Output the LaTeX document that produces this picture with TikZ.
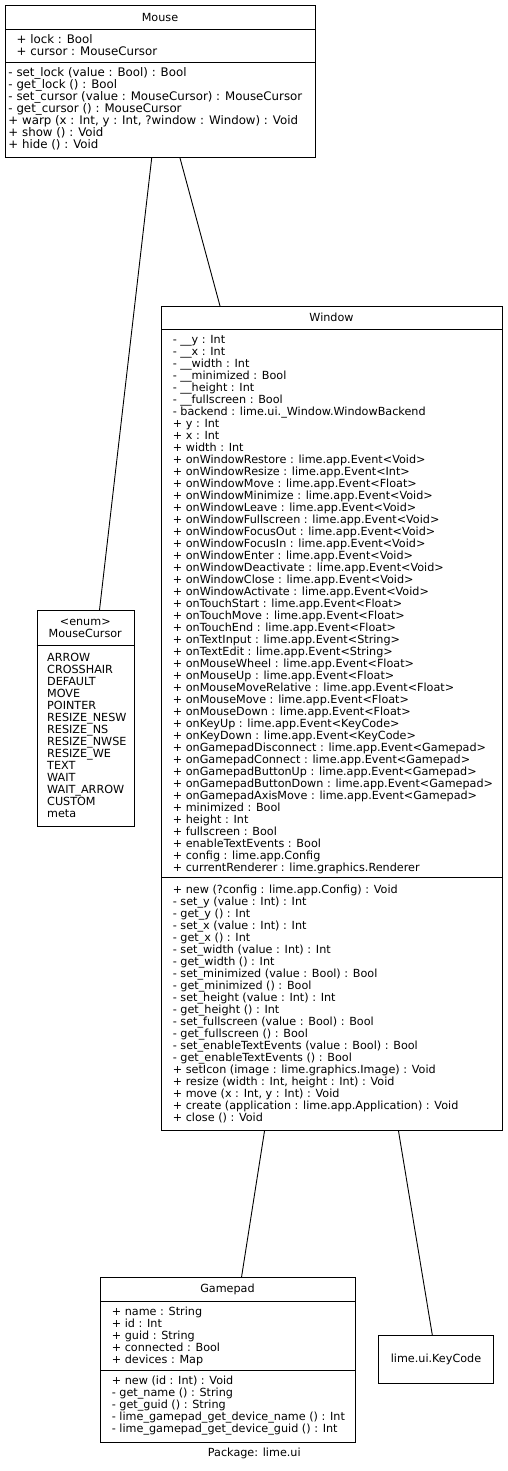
\documentclass[tikz,border=0pt]{standalone}
\usepackage{fontspec}
\setmainfont{DejaVu Sans}
\usetikzlibrary{calc}
\tikzset{
  umlbox/.style={draw=black, line width=1pt, rectangle, inner sep=0pt, anchor=north west},
  sep/.style={draw=black, line width=0.9pt},
  txt/.style={font=\fontsize{11.2}{12}\selectfont, inner sep=0pt, align=left, anchor=north west},
  bigtxt/.style={txt, font=\fontsize{11.8}{12}\selectfont},
  ttl/.style={font=\fontsize{11.2}{12}\selectfont, inner sep=0pt, anchor=base},
  conn/.style={draw=black, line width=0.9pt}
}
\begin{document}
\begin{tikzpicture}[x=1pt,y=-1pt]
\useasboundingbox (0,0) rectangle (508,1471);

% ---------- Mouse ----------
\node[umlbox, minimum width=310pt, minimum height=152pt] (mouse) at (5,5) {};
\draw[sep] ($(mouse.north west)+(0,24)$) -- ($(mouse.north east)+(0,24)$);
\draw[sep] ($(mouse.north west)+(0,57)$) -- ($(mouse.north east)+(0,57)$);
\node[ttl] (mousettl) at (160,21.5) {Mouse};
\node[bigtxt] (mouseattr) at (16.5,34) {\rule{0pt}{9pt}+ lock : Bool\\+ cursor : MouseCursor};
\node[bigtxt] (mousemeth) at (8.3,67) {\rule{0pt}{9pt}- set\_lock (value : Bool) : Bool\\
- get\_lock () : Bool\\
- set\_cursor (value : MouseCursor) : MouseCursor\\
- get\_cursor () : MouseCursor\\
+ warp (x : Int, y : Int, ?window : Window) : Void\\
+ show () : Void\\
+ hide () : Void};

% ---------- MouseCursor ----------
\node[umlbox, minimum width=97.5pt, minimum height=216pt] (cursor) at (36.5,610) {};
\draw[sep] ($(cursor.north west)+(0,35)$) -- ($(cursor.north east)+(0,35)$);
\node[ttl] (cursorst) at (85.25,625) {<enum>};
\node[ttl] (cursorttl) at (85.25,637) {MouseCursor};
\node[txt] (cursorlit) at (47,652) {\rule{0pt}{9pt}ARROW\\
CROSSHAIR\\
DEFAULT\\
MOVE\\
POINTER\\
RESIZE\_NESW\\
RESIZE\_NS\\
RESIZE\_NWSE\\
RESIZE\_WE\\
TEXT\\
WAIT\\
WAIT\_ARROW\\
CUSTOM\\
meta};

% ---------- Window ----------
\node[umlbox, minimum width=341pt, minimum height=824pt] (window) at (161,306) {};
\draw[sep] ($(window.north west)+(0,23.3)$) -- ($(window.north east)+(0,23.3)$);
\draw[sep] ($(window.north west)+(0,571)$) -- ($(window.north east)+(0,571)$);
\node[ttl] (windowttl) at (331.5,321) {Window};
\node[txt] (windowattr) at (172.7,334) {\rule{0pt}{9pt}- \_\_y : Int\\
- \_\_x : Int\\
- \_\_width : Int\\
- \_\_minimized : Bool\\
- \_\_height : Int\\
- \_\_fullscreen : Bool\\
- backend : lime.ui.\_Window.WindowBackend\\
+ y : Int\\
+ x : Int\\
+ width : Int\\
+ onWindowRestore : lime.app.Event<Void>\\
+ onWindowResize : lime.app.Event<Int>\\
+ onWindowMove : lime.app.Event<Float>\\
+ onWindowMinimize : lime.app.Event<Void>\\
+ onWindowLeave : lime.app.Event<Void>\\
+ onWindowFullscreen : lime.app.Event<Void>\\
+ onWindowFocusOut : lime.app.Event<Void>\\
+ onWindowFocusIn : lime.app.Event<Void>\\
+ onWindowEnter : lime.app.Event<Void>\\
+ onWindowDeactivate : lime.app.Event<Void>\\
+ onWindowClose : lime.app.Event<Void>\\
+ onWindowActivate : lime.app.Event<Void>\\
+ onTouchStart : lime.app.Event<Float>\\
+ onTouchMove : lime.app.Event<Float>\\
+ onTouchEnd : lime.app.Event<Float>\\
+ onTextInput : lime.app.Event<String>\\
+ onTextEdit : lime.app.Event<String>\\
+ onMouseWheel : lime.app.Event<Float>\\
+ onMouseUp : lime.app.Event<Float>\\
+ onMouseMoveRelative : lime.app.Event<Float>\\
+ onMouseMove : lime.app.Event<Float>\\
+ onMouseDown : lime.app.Event<Float>\\
+ onKeyUp : lime.app.Event<KeyCode>\\
+ onKeyDown : lime.app.Event<KeyCode>\\
+ onGamepadDisconnect : lime.app.Event<Gamepad>\\
+ onGamepadConnect : lime.app.Event<Gamepad>\\
+ onGamepadButtonUp : lime.app.Event<Gamepad>\\
+ onGamepadButtonDown : lime.app.Event<Gamepad>\\
+ onGamepadAxisMove : lime.app.Event<Gamepad>\\
+ minimized : Bool\\
+ height : Int\\
+ fullscreen : Bool\\
+ enableTextEvents : Bool\\
+ config : lime.app.Config\\
+ currentRenderer : lime.graphics.Renderer};
\node[txt] (windowmeth) at (172.7,884) {\rule{0pt}{9pt}+ new (?config : lime.app.Config) : Void\\
- set\_y (value : Int) : Int\\
- get\_y () : Int\\
- set\_x (value : Int) : Int\\
- get\_x () : Int\\
- set\_width (value : Int) : Int\\
- get\_width () : Int\\
- set\_minimized (value : Bool) : Bool\\
- get\_minimized () : Bool\\
- set\_height (value : Int) : Int\\
- get\_height () : Int\\
- set\_fullscreen (value : Bool) : Bool\\
- get\_fullscreen () : Bool\\
- set\_enableTextEvents (value : Bool) : Bool\\
- get\_enableTextEvents () : Bool\\
+ setIcon (image : lime.graphics.Image) : Void\\
+ resize (width : Int, height : Int) : Void\\
+ move (x : Int, y : Int) : Void\\
+ create (application : lime.app.Application) : Void\\
+ close () : Void};

% ---------- Gamepad ----------
\node[umlbox, minimum width=255pt, minimum height=164.4pt] (gamepad) at (100,1277.3) {};
\draw[sep] ($(gamepad.north west)+(0,24.4)$) -- ($(gamepad.north east)+(0,24.4)$);
\draw[sep] ($(gamepad.north west)+(0,92.7)$) -- ($(gamepad.north east)+(0,92.7)$);
\node[ttl] (gamepadttl) at (227.5,1292.3) {Gamepad};
\node[txt] (gamepadattr) at (111.7,1306.7) {\rule{0pt}{9pt}+ name : String\\
+ id : Int\\
+ guid : String\\
+ connected : Bool\\
+ devices : Map};
\node[txt] (gamepadmeth) at (111.7,1375) {\rule{0pt}{9pt}+ new (id : Int) : Void\\
- get\_name () : String\\
- get\_guid () : String\\
- lime\_gamepad\_get\_device\_name () : Int\\
- lime\_gamepad\_get\_device\_guid () : Int};

% ---------- KeyCode ----------
\node[umlbox, minimum width=114.4pt, minimum height=47.7pt, font=\fontsize{11.2}{12}\selectfont] (keycode) at (378.3,1335) {lime.ui.KeyCode};

% ---------- Package label ----------
\node[ttl] (pkg) at (254.3,1456.7) {Package: lime.ui};

% ---------- Connectors ----------
\draw[conn] ($(mouse.south west)+(146.7,0)$) -- ($(cursor.north west)+(63,0)$);
\draw[conn] ($(mouse.south west)+(175,0)$) -- ($(window.north west)+(59,0)$);
\draw[conn] ($(window.south west)+(103.5,0)$) -- ($(gamepad.north west)+(141.5,0)$);
\draw[conn] ($(window.south west)+(237.5,0)$) -- ($(keycode.north west)+(54,0)$);
\end{tikzpicture}
\end{document}
